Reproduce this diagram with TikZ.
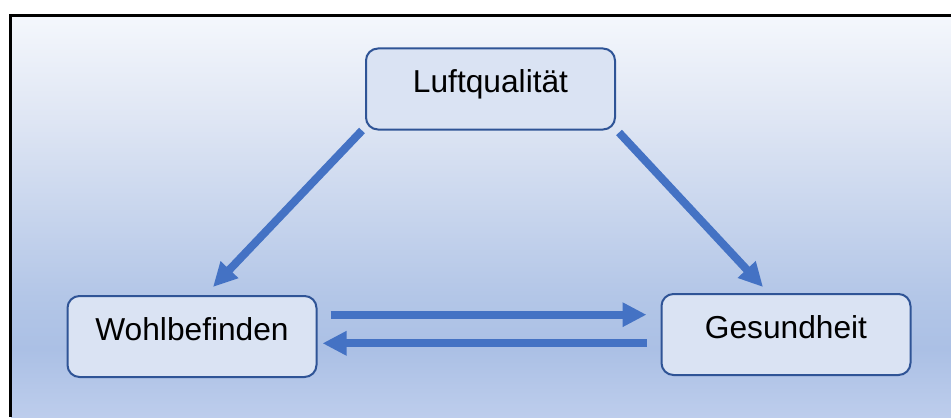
\documentclass[tikz,border=0pt]{standalone}
\usepackage{fontspec}
\setmainfont{Liberation Sans}
\usetikzlibrary{arrows.meta}
\definecolor{bgA}{HTML}{F4F7FC}
\definecolor{bgB}{HTML}{DFE6F4}
\definecolor{bgC}{HTML}{B3C6E7}
\definecolor{bgD}{HTML}{ABC0E5}
\definecolor{bgE}{HTML}{BDCDEC}
\definecolor{boxfill}{HTML}{DAE3F3}
\definecolor{boxline}{HTML}{2F5496}
\definecolor{arrowblue}{HTML}{4472C4}
\pgfdeclareverticalshading{bgshade}{100bp}{color(0bp)=(bgE); color(25bp)=(bgE); color(33.5bp)=(bgD); color(40bp)=(bgC); color(62.5bp)=(bgB); color(75bp)=(bgA); color(100bp)=(bgA)}
\tikzset{
  box/.style={draw=boxline, fill=boxfill, line width=1pt, rounded corners=6pt,
    minimum width=124.5pt, minimum height=40.5pt, inner sep=0pt,
    font=\fontsize{15.85}{19}\selectfont, text height=0.75em, text depth=0.37em},
  arr/.style={draw=arrowblue, line width=4pt, -{Triangle[length=12pt,width=11.5pt]}}
}
\begin{document}
\begin{tikzpicture}[x=0.5pt,y=-0.5pt]
\useasboundingbox (0,0) rectangle (951,417);
\shade[shading=bgshade] (11,17) rectangle (951,417);
\draw[line width=1.5pt] (10,417) -- (10,15.5) -- (951,15.5);
\node[box] (L) at (490.5,89) {Luftqualität};
\node[box] (W) at (192,336.5) {Wohlbefinden};
\node[box] (G) at (786,334.5) {Gesundheit};
\draw[arr] ([shift={(-3,0)}]L.south west) -- ([shift={(21,-8)}]W.north);
\draw[arr] ([shift={(3,2)}]L.south east) -- ([shift={(-23,-6)}]G.north);
\draw[arr] ([shift={(13,-21.8)}]W.east) -- ([shift={(-14,-19.8)}]G.west);
\draw[arr] ([shift={(-14,8.8)}]G.west) -- ([shift={(5,6.8)}]W.east);
\end{tikzpicture}
\end{document}
